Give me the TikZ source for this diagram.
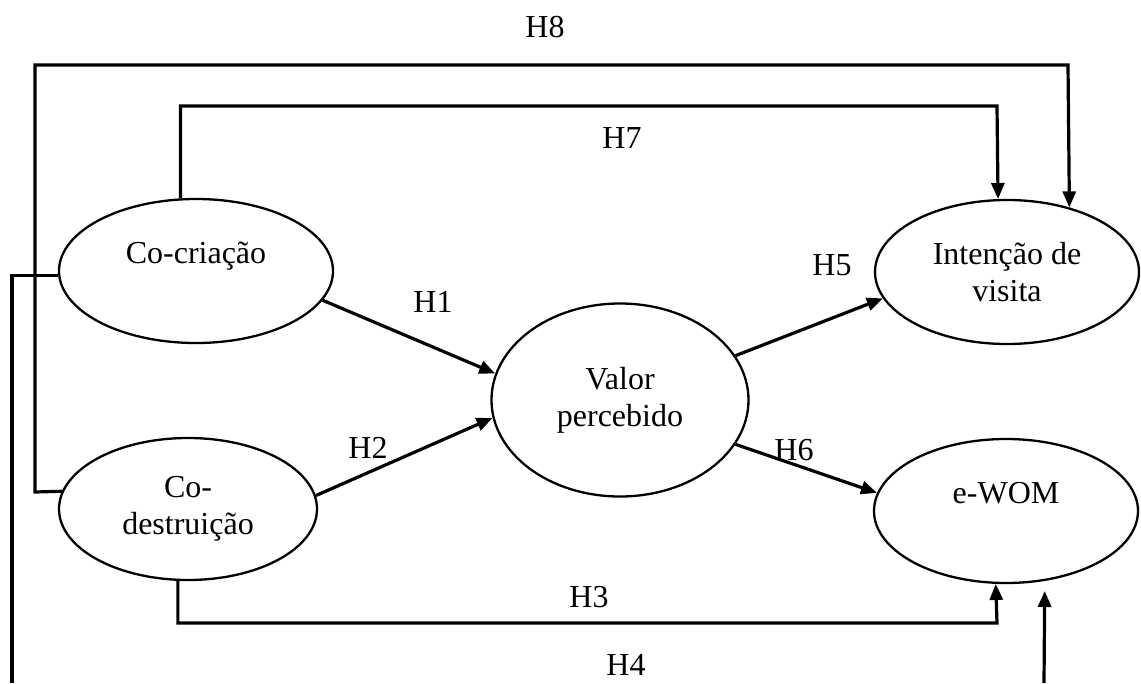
\documentclass[tikz,border=0pt]{standalone}
\usepackage{fontspec}
\setmainfont{Liberation Serif}
\usetikzlibrary{arrows.meta,shapes.geometric}
\begin{document}
\begin{tikzpicture}[x=1pt,y=-1pt,
  font=\fontsize{32}{37}\selectfont,
  ell/.style={draw, ellipse, line width=2.3pt, inner sep=0pt, align=center},
  conn/.style={line width=3.2pt},
  arr/.style={conn, -{Triangle[length=16pt,width=13pt]}},
  lab/.style={inner sep=0pt}]
\useasboundingbox (0,0) rectangle (1141,683);
% ellipses
\node[ell, minimum width=274pt, minimum height=144pt] (cc) at (196,271) {Co-criação\\\mbox{}};
\node[ell, minimum width=258pt, minimum height=142pt] (cd) at (188,509) {Co-\\destruição};
\node[ell, minimum width=257pt, minimum height=193pt] (vp) at (620,400) {Valor\\percebido};
\node[ell, minimum width=264pt, minimum height=144pt] (iv) at (1007,272) {Intenção de\\visita};
\node[ell, minimum width=264pt, minimum height=144pt] (ew) at (1006,511) {e-WOM\\\mbox{}};
% bend coordinates
\coordinate (h8a) at (35,492);
\coordinate (h8b) at (1068,65);
\coordinate (h7a) at (997,106);
\coordinate (h3a) at (997,623);
\coordinate (h4a) at (12,683);
\coordinate (h4b) at (1044,683);
% connectors
\draw[arr] (cc.-13) -- (vp.168);
\draw[arr] (cd.6) -- (vp.188);
\draw[arr] (vp.21.5) -- (iv.192.6);
\draw[arr] (vp.-21.5) -- (ew.172);
\draw[arr] (cc.102.6) |- (h7a) -- (iv.97.9);
\draw[arr] (cd.172.3) -- (h8a) |- (h8b) -- (iv.46.4);
\draw[arr] (cd.262.8) |- (h3a) -- (ew.262.8);
\draw[conn] (cc.182.5) -| (h4a);
\draw[arr, shorten >=10pt] (h4b) -- (ew.-61.2);
% labels
\node[lab] (l8) at (545,27) {H8};
\node[lab] (l7) at (622,138) {H7};
\node[lab] (l1) at (433,302) {H1};
\node[lab] (l2) at (368,448) {H2};
\node[lab] (l5) at (832,265) {H5};
\node[lab] (l6) at (794,450) {H6};
\node[lab] (l3) at (589,597) {H3};
\node[lab] (l4) at (626,665) {H4};
\end{tikzpicture}
\end{document}
